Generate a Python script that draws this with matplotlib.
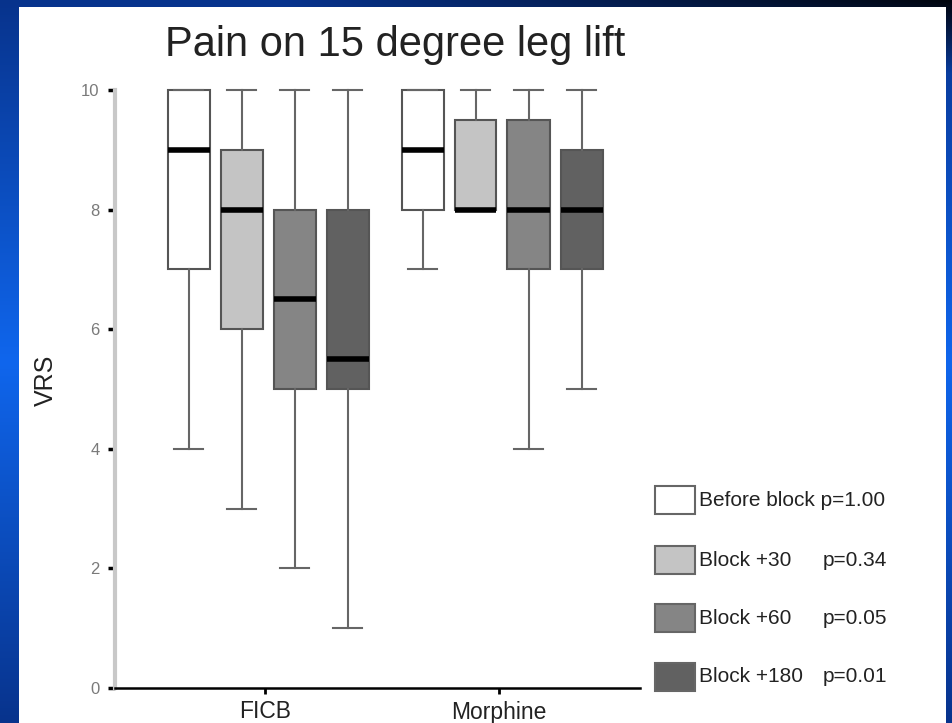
import numpy as np
import matplotlib
matplotlib.use("Agg")
import matplotlib.pyplot as plt
from matplotlib.patches import Rectangle

plt.rcParams['font.family'] = ['Liberation Sans', 'DejaVu Sans']

# ---- data ----
groups = ["FICB", "Morphine"]
series = ["Before block", "Block +30", "Block +60", "Block +180"]
pvalues = ["p=1.00", "p=0.34", "p=0.05", "p=0.01"]
colors = ["#ffffff", "#c4c4c4", "#858585", "#616161"]
# per group, per series: (whislo, q1, median, q3, whishi)
ficb_lo = [4, 3, 2, 1]
ficb_q1 = [7, 6, 5, 5]
ficb_med = [9, 8, 6.5, 5.5]
ficb_q3 = [10, 9, 8, 8]
ficb_hi = [10, 10, 10, 10]
morph_lo = [7, 8, 4, 5]
morph_q1 = [8, 8, 7, 7]
morph_med = [9, 8, 8, 8]
morph_q3 = [10, 9.5, 9.5, 9]
morph_hi = [10, 10, 10, 10]
yticks = [0, 2, 4, 6, 8, 10]

W, H = 952, 723
fig = plt.figure(figsize=(W / 100, H / 100), dpi=100)

# background gradient
bg = fig.add_axes([0, 0, 1, 1], zorder=-10)
bg.axis("off")
yy = np.linspace(0, 1, 300)[:, None]
xx = np.linspace(0, 1, 300)[None, :]
c_top = np.array([0.03, 0.20, 0.55])
c_mid = np.array([0.06, 0.40, 0.93])
t = np.abs(yy - 0.5) * 2
img = (c_mid[None, None, :] * (1 - t[..., None]) + c_top[None, None, :] * t[..., None]) * np.ones((1, 300, 1))
dark = np.clip((xx - 0.3) / 0.7, 0, 1) * np.clip((0.1 - yy) / 0.1, 0, 1)
img = img * (1 - 0.9 * dark[..., None])
bg.imshow(img, extent=[0, 1, 0, 1], aspect="auto", origin="upper")
bg.set_xlim(0, 1)
bg.set_ylim(0, 1)

# white panel
fig.add_artist(Rectangle((19 / W, 0), (946 - 19) / W, (H - 7) / H,
                         transform=fig.transFigure, facecolor="white",
                         edgecolor="none", zorder=-5))

# main axes
x0, x1 = 115, 640
y0, y1 = 688, 90
ax = fig.add_axes([x0 / W, 1 - y0 / H, (x1 - x0) / W, (y0 - y1) / H])
ax.patch.set_alpha(0)

d = 53 / 234
bw = 42 / 234
cw = 29 / 234
shift = 3 / 234
offsets = np.array([-1.5, -0.5, 0.5, 1.5]) * d + shift

stats = []
positions = []
facecols = []
for gi, (lo, q1, med, q3, hi) in enumerate([
        (ficb_lo, ficb_q1, ficb_med, ficb_q3, ficb_hi),
        (morph_lo, morph_q1, morph_med, morph_q3, morph_hi)]):
    for si in range(4):
        stats.append(dict(whislo=lo[si], q1=q1[si], med=med[si], q3=q3[si],
                          whishi=hi[si], fliers=[]))
        positions.append(gi + 1 + offsets[si])
        facecols.append(colors[si])

res = ax.bxp(stats, positions=positions, widths=bw, capwidths=cw,
             patch_artist=True, showfliers=False,
             boxprops=dict(edgecolor="#555555", linewidth=1.5),
             whiskerprops=dict(color="#666666", linewidth=1.5),
             capprops=dict(color="#666666", linewidth=1.5),
             medianprops=dict(color="black", linewidth=4, solid_capstyle="butt"))
for p, c in zip(res["boxes"], facecols):
    p.set_facecolor(c)
for k in res:
    for a in res[k]:
        a.set_clip_on(False)

ax.set_xlim(1 - (265 - 115) / 234, 2 + (640 - 499) / 234)
ax.set_ylim(0, 10)
ax.set_yticks(yticks)
ax.set_yticklabels([str(v) for v in yticks], color="#7a7a7a", fontsize=12)
ax.set_xticks([1, 2])
ax.set_xticklabels(groups, fontsize=16.5, color="#222222")
ax.tick_params(axis="y", length=5, width=2.5, color="black", pad=6)
ax.tick_params(axis="x", length=4, width=2, color="black", pad=5)
for s in ["top", "right"]:
    ax.spines[s].set_visible(False)
ax.spines["left"].set_color("#c8c8c8")
ax.spines["left"].set_linewidth(3)
ax.spines["bottom"].set_color("black")
ax.spines["bottom"].set_linewidth(1.8)

fig.text(395 / W, 1 - 45 / H, "Pain on 15 degree leg lift", fontsize=30,
         ha="center", va="center", color="#222222")
fig.text(46 / W, 1 - 380 / H, "VRS", fontsize=18, rotation=90,
         ha="center", va="center", color="#222222")

# legend
rows_y = [500, 560, 618, 677]
for i in range(4):
    yc = rows_y[i]
    fig.add_artist(Rectangle((655 / W, 1 - (yc + 14) / H), 40 / W, 28 / H,
                             transform=fig.transFigure, facecolor=colors[i],
                             edgecolor="#666666", linewidth=1.5))
    if i == 0:
        fig.text(699 / W, 1 - yc / H, series[i] + " " + pvalues[i],
                 fontsize=15, ha="left", va="center", color="#222222")
    else:
        fig.text(699 / W, 1 - yc / H, series[i], fontsize=15,
                 ha="left", va="center", color="#222222")
        fig.text(823 / W, 1 - yc / H, pvalues[i], fontsize=15,
                 ha="left", va="center", color="#222222")

fig.savefig("out.png", dpi=100)
